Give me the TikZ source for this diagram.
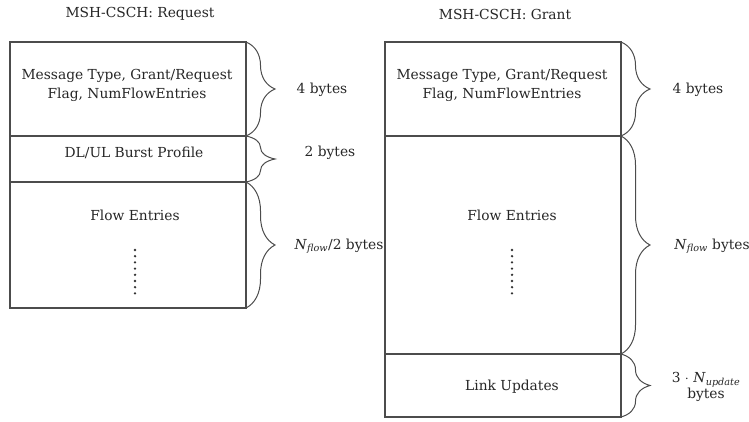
\documentclass[tikz,border=0pt]{standalone}
\usepackage{fontspec}
\setmainfont{DejaVu Serif}
\usetikzlibrary{decorations.pathreplacing}
\begin{document}
\begin{tikzpicture}[x=1pt,y=-1pt,
  row/.style={draw=black!70,line width=1.2pt,minimum width=236pt,anchor=north west,inner sep=0pt,outer sep=0pt},
  brc/.style={decorate,decoration={brace,amplitude=29pt},draw=black!70,line width=1pt},
  txt/.style={font=\fontsize{13.8}{19}\selectfont,align=center,text=black!85,inner sep=0pt},
  lbl/.style={font=\fontsize{13.8}{14}\selectfont,align=center,text=black!85,inner sep=0pt},
  dot/.style={circle,fill=black!80,inner sep=0pt,minimum size=2.6pt}]
\useasboundingbox (0,0) rectangle (749,422);
% titles
\node[txt] (tl) at (140,14) {MSH-CSCH: Request};
\node[txt] (tr) at (505,14) {MSH-CSCH: Grant};
% left stack
\node[row,minimum height=94pt] (lA) at (10,42) {};
\node[row,minimum height=46pt] (lB) at (lA.south west) {};
\node[row,minimum height=126pt] (lC) at (lB.south west) {};
\node[txt] (lAt) at (127,85) {Message Type, Grant/Request\\Flag, NumFlowEntries};
\node[txt] (lBt) at (134,153) {DL/UL Burst Profile};
\node[txt] (lCt) at (135,215) {Flow Entries};
\foreach \i in {0,...,7} \node[dot] at (135,250+6.2*\i) {};
% right stack
\node[row,minimum height=94pt] (rA) at (385,42) {};
\node[row,minimum height=218pt] (rB) at (rA.south west) {};
\node[row,minimum height=63pt] (rC) at (rB.south west) {};
\node[txt] (rAt) at (502,85) {Message Type, Grant/Request\\Flag, NumFlowEntries};
\node[txt] (rBt) at (512,215) {Flow Entries};
\node[txt] (rCt) at (512,387) {Link Updates};
\foreach \i in {0,...,7} \node[dot] at (512,250+6.2*\i) {};
% braces
\draw[brc] (lA.north east) -- (lA.south east);
\draw[brc] (lB.north east) -- (lB.south east);
\draw[brc] (lC.north east) -- (lC.south east);
\draw[brc] (rA.north east) -- (rA.south east);
\draw[brc] (rB.north east) -- (rB.south east);
\draw[brc] (rC.north east) -- (rC.south east);
% labels
\node[lbl] (l1) at (322,90) {4 bytes};
\node[lbl] (l2) at (330,153) {2 bytes};
\node[lbl] (l3) at (339,246) {\textit{N}\textsubscript{\textit{flow}}/2 bytes};
\node[lbl] (r1) at (698,90) {4 bytes};
\node[lbl] (r2) at (712,246) {\textit{N}\textsubscript{\textit{flow}} bytes};
\node[lbl] (r3) at (706,387) {3 $\cdot$ \textit{N}\textsubscript{\textit{update}}\\bytes};
\end{tikzpicture}
\end{document}
